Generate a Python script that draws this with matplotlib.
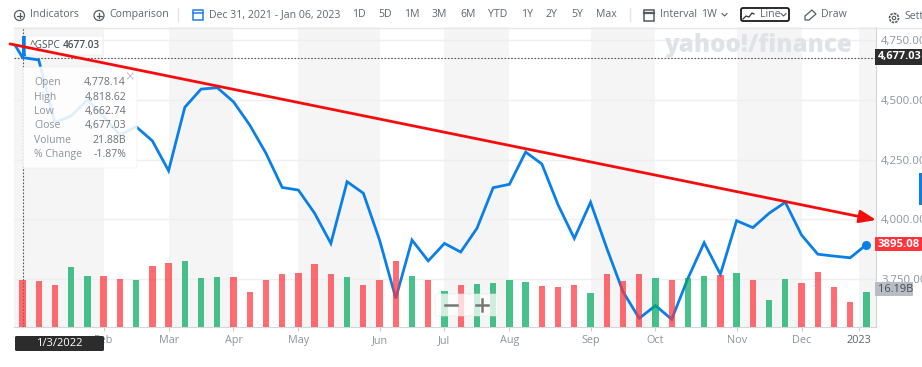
import matplotlib
matplotlib.use("Agg")
import matplotlib.pyplot as plt
from matplotlib.patches import Rectangle, FancyBboxPatch, Circle, Polygon
from matplotlib.ticker import FuncFormatter

plt.rcParams['font.family'] = ['Open Sans', 'DejaVu Sans']

# ---------- data ----------
closes = [4677.03, 4667, 4405, 4433, 4500, 4430, 4353, 4388, 4329, 4204, 4469, 4545, 4551,
          4492, 4395, 4277, 4134, 4123, 4026, 3900, 4158, 4110, 3914, 3671, 3914, 3827,
          3900, 3864, 3963, 4133, 4147, 4282, 4232, 4061, 3921, 4072, 3880, 3698, 3587,
          3640, 3583, 3754, 3903, 3771, 3995, 3966, 4026, 4072, 3935, 3855, 3847, 3840, 3895.08]
first_partial_close = 4726
volumes = [21.88, 21.3, 19.3, 27.8, 23.5, 23.8, 22.4, 21.6, 28.2, 29.6, 30.4, 22.7, 23.0,
           23.0, 16.0, 21.6, 24.5, 24.8, 29.3, 24.5, 23.0, 19.3, 21.6, 30.4, 23.5, 21.6,
           16.7, 19.3, 20.1, 20.5, 21.6, 20.8, 19.0, 18.7, 19.3, 15.6, 24.5, 21.1, 24.5,
           22.7, 21.6, 22.7, 23.5, 24.2, 24.8, 21.6, 12.3, 22.2, 20.5, 25.3, 18.4, 11.7, 16.19]
vol_dir = ("RRRGGRRG" "RRGGGR" "RRRRRRG" "RRRGRG" "RGGGGRRRG" "RRRGRGGRGRGGRRRRG")
month_pos = [5, 9, 13, 17, 22, 26, 30, 35, 39, 44, 48, 51.55]
month_labels = ['Feb', 'Mar', 'Apr', 'May', 'Jun', 'Jul', 'Aug', 'Sep', 'Oct', 'Nov', 'Dec', '2023']
y_ticks = [3750, 4000, 4250, 4500, 4750]
trend_x = [-0.77, 52.6]
trend_y = [4734, 3998]
tooltip_rows = [('Open', '4,778.14'), ('High', '4,818.62'), ('Low', '4,662.74'),
                ('Close', '4,677.03'), ('Volume', '21.88B'), ('% Change', '-1.87%')]

W, H = 922, 367
GREY = '#5f6770'
LIGHT = '#8d949c'
BLUE = '#0a7fe8'

fig = plt.figure(figsize=(W / 100, H / 100), dpi=100, facecolor='white')
L, R, T, B = 14, 875.7, 27, 327
rect = [L / W, 1 - B / H, (R - L) / W, (B - T) / H]

px_x = lambda p: (p - 22.5) / 16.23
px_y = lambda p: 4000 + (219.5 - p) * 4.18
xlim = (px_x(L), px_x(R))
ylim = (px_y(B), px_y(T))

# ---------- price axes ----------
ax = fig.add_axes(rect, zorder=1)
ax.set_xlim(xlim)
ax.set_ylim(ylim)
edges = [xlim[0]] + month_pos + [xlim[1]]
for i in range(0, len(edges) - 1, 2):
    ax.axvspan(edges[i], edges[i + 1], color='#f5f5f6', lw=0, zorder=0)
ax.plot([px_x(15.5)] + list(range(len(closes))), [first_partial_close] + closes,
        color=BLUE, lw=2.0, solid_joinstyle='miter', zorder=3)
ax.plot([len(closes) - 1], [closes[-1]], 'o', color=BLUE, ms=5.5, zorder=4)
ax.set_xticks(month_pos)
ax.set_xticklabels(month_labels)
ax.set_yticks(y_ticks)
ax.yaxis.set_major_formatter(FuncFormatter(lambda v, _: f'{v:,.2f}'))
ax.yaxis.tick_right()
ax.grid(axis='y', color='#eeeff1', lw=1, zorder=1)
ax.set_axisbelow(True)
ax.tick_params(axis='x', length=3, color='#c9ccd0', labelcolor=LIGHT, labelsize=7.8, pad=3)
ax.tick_params(axis='y', length=0, labelcolor=LIGHT, labelsize=8.2, pad=4)
ax.get_xticklabels()[-1].set_color('#5b636b')
for s in ('top', 'left'):
    ax.spines[s].set_visible(False)
ax.spines['bottom'].set_color('#d4d6d9')
ax.spines['right'].set_color('#d4d6d9')
ax.axhline(closes[0], color='#555', lw=0.8, ls=(0, (1.5, 1.5)), zorder=2)
ax.axvline(0, color='#555', lw=0.8, ls=(0, (1.5, 1.5)), zorder=2)

# ---------- volume axes ----------
axv = fig.add_axes(rect, zorder=2, sharex=ax)
axv.patch.set_visible(False)
axv.set_ylim(0, (B - T) / 2.16)
for i, (v, c) in enumerate(zip(volumes, vol_dir)):
    col = '#ff333a' if c == 'R' else '#00ab5e'
    axv.bar(i, v, width=0.39, color=col, alpha=0.72, lw=0)
axv.axis('off')

# ---------- overlay in pixel coordinates ----------
ov = fig.add_axes([0, 0, 1, 1], zorder=3)
ov.set_xlim(0, W)
ov.set_ylim(H, 0)
ov.axis('off')


def label(x, y, s, color=GREY, size=7.6, ha='left', **kw):
    ov.text(x, y, s, color=color, fontsize=size, ha=ha, va='center', **kw)


def plus_icon(x, y):
    ov.add_patch(Circle((x, y), 5, fc='none', ec='#555b62', lw=0.9))
    ov.plot([x - 2.5, x + 2.5], [y, y], color='#555b62', lw=0.9)
    ov.plot([x, x], [y - 2.5, y + 2.5], color='#555b62', lw=0.9)


ov.add_patch(Rectangle((0, 0), W, T, fc='white', ec='none'))
ov.plot([14, W], [27.5, 27.5], color='#e6e7e9', lw=1)
plus_icon(19.5, 15.5)
label(30, 14.5, 'Indicators')
plus_icon(99, 15.5)
label(109, 14.5, 'Comparison')
ov.plot([178, 178], [8, 21], color='#e3e4e6', lw=1)
ov.add_patch(Rectangle((193, 10), 9.5, 9.5, fc='none', ec='#1f7fee', lw=1.1))
ov.plot([193, 202.5], [13, 13], color='#1f7fee', lw=1.1)
label(209, 14.5, 'Dec 31, 2021 - Jan 06, 2023')
for x, s in zip([352, 378, 404, 432, 460, 488, 521, 545, 571, 596],
                ['1D', '5D', '1M', '3M', '6M', 'YTD', '1Y', '2Y', '5Y', 'Max']):
    label(x, 14.5, s)
ov.plot([630, 630], [8, 21], color='#e3e4e6', lw=1)
ov.add_patch(Rectangle((643.5, 10), 10.5, 10.5, fc='none', ec='#555b62', lw=1.1))
ov.plot([643.5, 654], [12.5, 12.5], color='#555b62', lw=1.6)
label(660, 14.5, 'Interval')
label(701.5, 14.5, '1W')
ov.plot([722, 724.5, 727], [13.5, 16, 13.5], color='#555b62', lw=0.8)
ov.add_patch(FancyBboxPatch((741, 8), 48, 13, boxstyle='round,pad=0,rounding_size=2',
                            fc='white', ec='#1a1a1a', lw=1.3))
ov.plot([743, 746, 749, 752, 754], [19, 16, 17, 13, 14], color='#333', lw=0.9)
label(760, 14.5, 'Line')
ov.plot([781, 783.5, 786], [13.5, 16, 13.5], color='#555b62', lw=0.8)
ov.add_patch(Polygon([[805, 20], [805, 16], [812, 10], [816, 14], [809, 20]],
                     closed=True, fc='none', ec='#555b62', lw=0.9))
label(821, 14.5, 'Draw')
ov.add_patch(Circle((894, 18), 4.5, fc='none', ec='#555b62', lw=1.2, ls=(0, (1.5, 0.6))))
ov.add_patch(Circle((894, 18), 1.7, fc='none', ec='#555b62', lw=0.8))
label(904, 17, 'Settings')

# watermark
label(665, 45.5, 'yahoo!/finance', color='#dfe3e8', size=17.4, fontweight='heavy')

# series label + tooltip
ov.add_patch(Rectangle((22, 36), 3.5, 20, fc=BLUE, ec='none'))
ov.add_patch(FancyBboxPatch((26, 36), 77, 19, boxstyle='round,pad=0,rounding_size=1.5',
                            fc='white', ec='#eeeeee', lw=0.5, alpha=0.95))
label(30, 45.5, '^GSPC', size=7.2, color='#4a5058')
label(63, 45.5, '4677.03', size=7.2, color='#4a5058', fontweight='semibold')
ov.add_patch(FancyBboxPatch((23, 67), 114, 101, boxstyle='round,pad=0,rounding_size=2',
                            fc='white', ec='#ececec', lw=0.5, alpha=0.88))
ov.plot([127.5, 133], [73, 79], color='#c4c7cb', lw=0.8)
ov.plot([133, 127.5], [73, 79], color='#c4c7cb', lw=0.8)
for k, (n, v) in enumerate(tooltip_rows):
    y = 83 + k * 14.3
    label(34, y, n, color='#8f959b', size=7.5)
    label(126, y, v, color='#6b7178', size=7.6, ha='right')

# badges
ov.add_patch(Rectangle((875, 49), 47, 15.5, fc='#2c2c2c', ec='none'))
label(877.5, 57, '4,677.03', color='white', size=7.9, fontweight='bold')
ov.add_patch(FancyBboxPatch((875, 237), 47, 14, boxstyle='round,pad=0,rounding_size=1',
                            fc='#ff333a', ec='none'))
label(877.5, 244.5, '3895.08', color='white', size=8.2, fontweight='bold')
ov.add_patch(FancyBboxPatch((875, 282), 38, 14, boxstyle='round,pad=0,rounding_size=1',
                            fc='#b8bcc4', ec='none'))
label(877.5, 289, '16.19B', color='#464b52', size=7.9)
ov.add_patch(Rectangle((919, 173), 3, 32, fc=BLUE, ec='none'))
ov.add_patch(FancyBboxPatch((15, 336), 89, 15, boxstyle='round,pad=0,rounding_size=1.5',
                            fc='#2c2c2c', ec='none'))
label(59.5, 343.5, '1/3/2022', color='white', size=8, ha='center')

# zoom controls
ov.add_patch(FancyBboxPatch((435, 294), 63, 22, boxstyle='round,pad=0,rounding_size=2',
                            fc='white', ec='#e5e5e5', lw=0.5, alpha=0.75))
ov.plot([445, 457], [305, 305], color='#777', lw=1.8)
ov.plot([476, 488], [305, 305], color='#777', lw=1.8)
ov.plot([482, 482], [299, 311], color='#777', lw=1.8)

# ---------- hand-drawn red trend arrow ----------
axt = fig.add_axes(rect, zorder=4, sharex=ax)
axt.set_ylim(ylim)
axt.axis('off')
axt.annotate('', xy=(trend_x[1], trend_y[1]), xytext=(trend_x[0], trend_y[0]),
             annotation_clip=False,
             arrowprops=dict(arrowstyle='-|>,head_length=0.7,head_width=0.27', color='#f50c0c',
                             lw=2.0, shrinkA=0, shrinkB=0, mutation_scale=14))

fig.savefig('out.png', dpi=100)
